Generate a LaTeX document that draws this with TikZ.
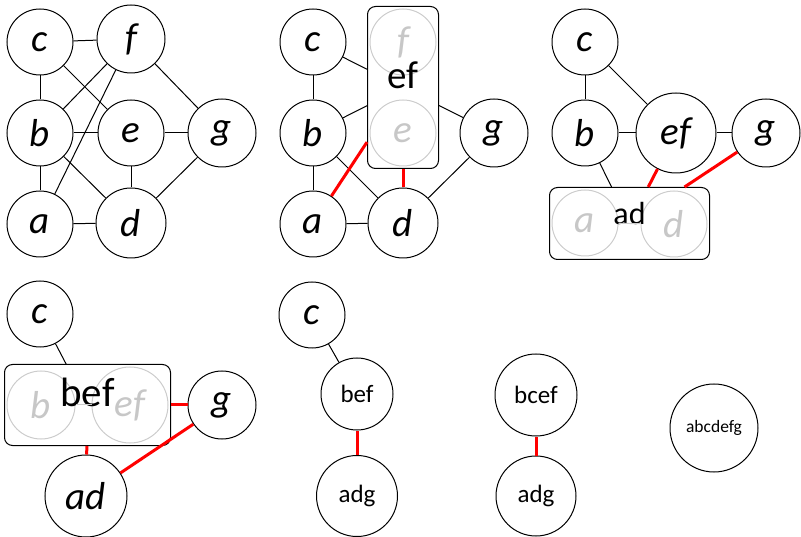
\documentclass[tikz,border=0pt]{standalone}
\usepackage{fontspec}
\setmainfont{Carlito}
\usetikzlibrary{fit}
\newcommand{\bigtxt}{\fontsize{39}{39}\selectfont}

\begin{document}
\begin{tikzpicture}[x=1pt,y=-1pt,line width=1pt,
  vtx/.style={circle,draw,inner sep=0pt,minimum size=66pt,font=\bigtxt\itshape},
  ghost/.style={vtx,draw=black!20,text=black!22},
  grp/.style={draw,rounded corners=8pt,inner sep=2pt},
  link/.style={line width=1pt},
  redlink/.style={red,line width=3pt},
  ghostlink/.style={black!20,line width=1pt}]
\useasboundingbox (0,0) rectangle (801,537);
\node[vtx] (c1) at (40,42) {c};
\node[vtx,minimum size=68pt] (f1) at (131,39) {f};
\node[vtx] (b1) at (40,133) {b};
\node[vtx] (e1) at (131,133) {e};
\node[vtx,minimum size=68pt] (g1) at (222,133) {g};
\node[vtx] (a1) at (40,224) {a};
\node[vtx,minimum size=70pt] (d1) at (131,223) {d};
\foreach \u/\v in {c1/f1,c1/b1,c1/e1,f1/b1,f1/a1,f1/g1,b1/e1,b1/a1,b1/d1,e1/g1,e1/d1,a1/d1,d1/g1}
  \draw[link] (\u)--(\v);
\node[vtx] (c2) at (313,42) {c};
\node[vtx] (b2) at (313,133) {b};
\node[vtx] (a2) at (313,224) {a};
\node[vtx,minimum size=70pt] (d2) at (403,223) {d};
\node[vtx,minimum size=68pt] (g2) at (494,133) {g};
\node[ghost] (f2) at (403,42) {f};
\node[ghost] (e2) at (403,133) {e};
\node[grp,fit=(f2)(e2)] (ef2) {};
\node[font=\bigtxt,yshift=12pt] at (ef2) {ef};
\foreach \u/\v in {c2/b2,c2/ef2,b2/ef2,ef2/g2,b2/a2,b2/d2,a2/d2,d2/g2}
  \draw[link] (\u)--(\v);
\draw[redlink] (a2)--(ef2);
\draw[redlink] (d2)--(ef2);
\node[vtx] (c3) at (585,42) {c};
\node[vtx] (b3) at (585,133) {b};
\node[vtx,minimum size=80pt] (ef3) at (676,133) {ef};
\node[vtx,minimum size=68pt] (g3) at (766,133) {g};
\node[ghost] (a3) at (585,223) {a};
\node[ghost] (d3) at (674,224) {d};
\node[grp,fit=(a3)(d3)] (ad3) {};
\node[font=\fontsize{32}{32}\selectfont,yshift=10pt] at (ad3) {ad};
\draw[ghostlink] (a3)--(d3);
\foreach \u/\v in {c3/b3,c3/ef3,b3/ef3,ef3/g3,b3/ad3}
  \draw[link] (\u)--(\v);
\draw[redlink] (ef3)--(ad3);
\draw[redlink] (g3)--(ad3);
\node[vtx] (c4) at (40,314) {c};
\node[ghost,minimum size=68pt] (b4) at (41,405) {b};
\node[ghost,minimum size=76pt] (ef4) at (130,405) {ef};
\node[grp,fit=(b4)(ef4)] (bef4) {};
\node[font=\fontsize{41}{41}\selectfont,yshift=13pt] at (bef4) {bef};
\node[vtx,minimum size=68pt] (g4) at (222,405) {g};
\node[vtx,minimum size=82pt] (ad4) at (86,496) {ad};
\draw[ghostlink] (b4)--(ef4);
\draw[link] (c4)--(bef4);
\draw[redlink] (bef4)--(g4);
\draw[redlink] (bef4)--(ad4);
\draw[redlink] (g4)--(ad4);
\node[vtx] (c5) at (312,315) {c};
\node[vtx,minimum size=72pt,font=\fontsize{25}{25}\selectfont] (bef5) at (357,394) {bef};
\node[vtx,minimum size=81pt,font=\fontsize{25}{25}\selectfont] (adg5) at (357,496) {adg};
\draw[link] (c5)--(bef5);
\draw[redlink] (bef5)--(adg5);
\node[vtx,minimum size=82pt,font=\fontsize{25}{25}\selectfont] (bcef6) at (536,395) {bcef};
\node[vtx,minimum size=80pt,font=\fontsize{25}{25}\selectfont] (adg6) at (536,496) {adg};
\draw[redlink] (bcef6)--(adg6);
\node[vtx,minimum size=88pt,font=\fontsize{17.5}{17.5}\selectfont] (all7) at (714,428) {abcdefg};
\end{tikzpicture}
\end{document}
